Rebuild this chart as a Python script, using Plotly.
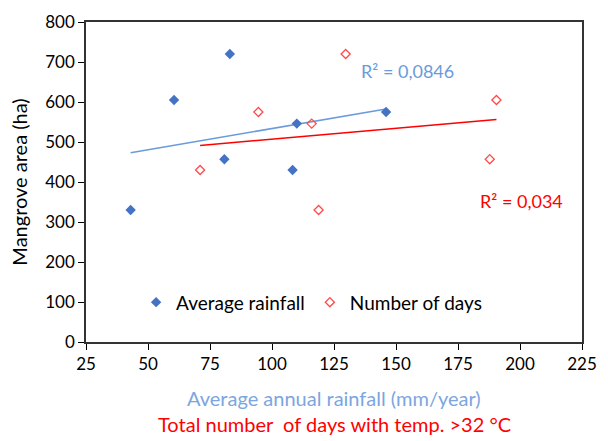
import numpy as np
import plotly.graph_objects as go

# Average annual rainfall (mm/year) vs mangrove area (ha)
rain_x = [43, 60.5, 80.8, 83, 108.3, 110, 146]
rain_y = [330, 605, 457, 720, 430, 546, 575]

# Days with temperature above 32 °C vs mangrove area (ha)
days_x = [71, 94.5, 116, 118.8, 129.7, 187.8, 190.5]
days_y = [430, 575, 546, 330, 720, 457, 605]

x_ticks = [25, 50, 75, 100, 125, 150, 175, 200, 225]
y_ticks = [0, 100, 200, 300, 400, 500, 600, 700, 800]

r2_rain_label = "R² = 0,0846"
r2_days_label = "R² = 0,034"

BLUE = "#4472C4"
BLUE_LINE = "#6A9BDB"
RED = "#FF4B4B"
RED_LINE = "#FF0000"
FONT = "Lato"


def linear_fit(xs, ys):
    slope, intercept = np.polyfit(xs, ys, 1)
    xx = np.array([min(xs), max(xs)])
    return xx, slope * xx + intercept


fig = go.Figure()

tx, ty = linear_fit(rain_x, rain_y)
fig.add_trace(go.Scatter(x=tx, y=ty, mode="lines", showlegend=False,
                         line=dict(color=BLUE_LINE, width=1.5), hoverinfo="skip"))
tx, ty = linear_fit(days_x, days_y)
fig.add_trace(go.Scatter(x=tx, y=ty, mode="lines", showlegend=False,
                         line=dict(color=RED_LINE, width=1.5), hoverinfo="skip"))

fig.add_trace(go.Scatter(
    x=rain_x, y=rain_y, mode="markers", name="Average rainfall",
    marker=dict(symbol="diamond", size=8, color=BLUE, line=dict(width=0)),
))
fig.add_trace(go.Scatter(
    x=days_x, y=days_y, mode="markers", name="Number of days",
    marker=dict(symbol="diamond-open", size=7, color=RED, line=dict(width=1.3, color=RED)),
))

fig.add_annotation(x=154.5, y=677, xref="x", yref="y", text=r2_rain_label,
                   showarrow=False, font=dict(family=FONT, size=18, color=BLUE_LINE))
fig.add_annotation(x=200.5, y=353, xref="x", yref="y", text=r2_days_label,
                   showarrow=False, font=dict(family=FONT, size=18, color=RED_LINE))

# Two-line x axis title, one line per series
fig.add_annotation(x=0.5, y=-0.176, xref="paper", yref="paper", yanchor="middle",
                   text="Average annual rainfall (mm/year)", showarrow=False,
                   font=dict(family=FONT, size=20, color="#7BA6E0"))
fig.add_annotation(x=0.5, y=-0.255, xref="paper", yref="paper", yanchor="middle",
                   text="Total number  of days with temp. >32 °C", showarrow=False,
                   font=dict(family=FONT, size=20, color=RED_LINE))

fig.update_xaxes(range=[25, 225], tickvals=x_ticks, ticks="outside", ticklen=6,
                 tickcolor="#000", showline=True, linecolor="#333", linewidth=1.5,
                 mirror=True, showgrid=False, zeroline=False,
                 tickfont=dict(family=FONT, size=17, color="#000"))
fig.update_yaxes(range=[0, 800], tickvals=y_ticks, ticks="outside", ticklen=6,
                 tickcolor="#000", showline=True, linecolor="#333", linewidth=1.5,
                 mirror=True, showgrid=False, zeroline=False,
                 title=dict(text="Mangrove area (ha)", standoff=12,
                            font=dict(family=FONT, size=20, color="#000")),
                 tickfont=dict(family=FONT, size=17, color="#000"))

fig.update_layout(
    width=608, height=441,
    margin=dict(l=86, r=18, t=11, b=99),
    paper_bgcolor="white", plot_bgcolor="white",
    font=dict(family=FONT, size=17, color="#000"),
    legend=dict(orientation="h", x=0.101, y=0.124, xanchor="left", yanchor="middle",
                bgcolor="rgba(0,0,0,0)", font=dict(family=FONT, size=19, color="#000"),
                itemwidth=30, tracegroupgap=0),
)

fig.write_html("out.html")
